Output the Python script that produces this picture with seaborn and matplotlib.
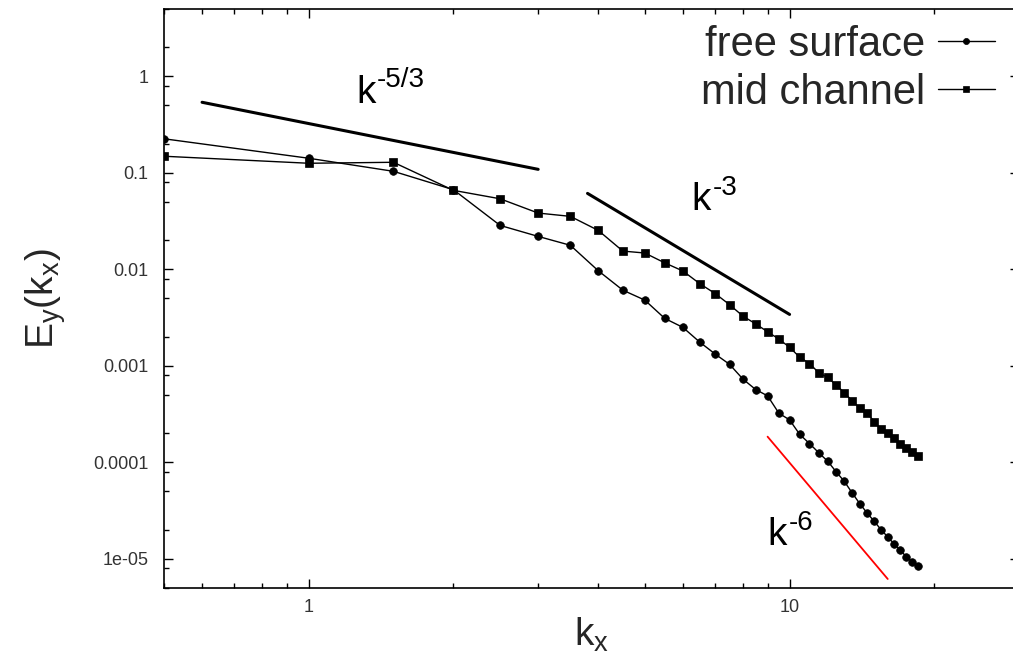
import matplotlib
matplotlib.use("Agg")
import matplotlib.pyplot as plt
import seaborn as sns
from matplotlib.ticker import FixedLocator, FixedFormatter, LogLocator, NullFormatter

# wavenumbers (k_x) and spectra
kx = [0.5, 1.0, 1.5, 2.0, 2.5, 3.0, 3.5, 4.0, 4.5, 5.0, 5.5, 6.0, 6.5,
      7.0, 7.5, 8.0, 8.5, 9.0, 9.5, 10.0, 10.5, 11.0, 11.5, 12.0, 12.5,
      13.0, 13.5, 14.0, 14.5, 15.0, 15.5, 16.0, 16.5, 17.0, 17.5, 18.0, 18.5]

free_surface = [0.226, 0.142, 0.104, 0.067, 0.0286, 0.0220, 0.0178, 0.0097,
                0.0061, 0.00481, 0.00311, 0.00251, 0.00177, 0.00133, 0.00104,
                7.3e-4, 5.7e-4, 4.9e-4, 3.24e-4, 2.76e-4, 1.95e-4, 1.57e-4,
                1.26e-4, 1.03e-4, 8.0e-5, 6.35e-5, 4.82e-5, 3.73e-5, 2.99e-5,
                2.45e-5, 2.01e-5, 1.69e-5, 1.43e-5, 1.23e-5, 1.05e-5, 9.4e-6, 8.5e-6]

mid_channel = [0.149, 0.126, 0.129, 0.066, 0.054, 0.0384, 0.0355, 0.0254,
               0.0155, 0.0148, 0.0117, 0.00964, 0.00714, 0.00563, 0.00432,
               0.00328, 0.00273, 0.00226, 0.00190, 0.00156, 0.00123, 0.00106,
               8.5e-4, 7.6e-4, 6.34e-4, 5.28e-4, 4.34e-4, 3.65e-4, 3.24e-4,
               2.65e-4, 2.21e-4, 2.01e-4, 1.78e-4, 1.56e-4, 1.41e-4, 1.29e-4, 1.17e-4]

# reference slopes (end points)
slope53_k = [0.6, 3.0]
slope53_E = [0.54, 0.109]
slope3_k = [3.8, 10.0]
slope3_E = [0.0614, 0.00342]
slope6_k = [9.0, 16.0]
slope6_E = [1.85e-4, 6.2e-6]

# label anchors (k, E, exponent)
power_labels = [(1.255, 0.536, "-5/3"), (6.25, 0.0409, "-3"), (9.0, 1.40e-5, "-6")]

xticks = [1, 10]
xtick_labels = ["1", "10"]
yticks = [1e-5, 1e-4, 1e-3, 1e-2, 1e-1, 1]
ytick_labels = ["1e-05", "0.0001", "0.001", "0.01", "0.1", "1"]

sns.set_theme(style="ticks")
plt.rcParams["font.family"] = ["Liberation Sans", "DejaVu Sans"]
plt.rcParams["mathtext.fontset"] = "custom"
plt.rcParams["mathtext.rm"] = "Liberation Sans"
plt.rcParams["mathtext.it"] = "Liberation Sans"

fig = plt.figure(figsize=(10.13, 6.57), dpi=100)
ax = fig.add_axes([164 / 1013, 1 - 588 / 657, 855 / 1013, 579 / 657])

sns.lineplot(x=kx, y=free_surface, ax=ax, color="black", lw=1.0, marker="o",
             markersize=5.5, markeredgecolor="black", markeredgewidth=0.5,
             label="free surface", sort=False, estimator=None, legend=False)
sns.lineplot(x=kx, y=mid_channel, ax=ax, color="black", lw=1.0, marker="s",
             markersize=5.5, markeredgecolor="black", markeredgewidth=0.5,
             label="mid channel", sort=False, estimator=None, legend=False)

sns.lineplot(x=slope53_k, y=slope53_E, ax=ax, color="black", lw=2.2,
             sort=False, estimator=None, legend=False)
sns.lineplot(x=slope3_k, y=slope3_E, ax=ax, color="black", lw=2.2,
             sort=False, estimator=None, legend=False)
sns.lineplot(x=slope6_k, y=slope6_E, ax=ax, color="#ff0000", lw=1.3,
             sort=False, estimator=None, legend=False)

for x, y, expo in power_labels:
    ax.text(x, y, "k", fontsize=28, ha="left", va="baseline", color="black")
    ax.annotate(expo, xy=(x, y), xytext=(15, 11), textcoords="offset points",
                fontsize=20, ha="left", va="baseline", color="black")

ax.set_xscale("log")
ax.set_yscale("log")
ax.set_xlim(0.5, 30)
ax.set_ylim(5e-6, 5)

ax.xaxis.set_major_locator(FixedLocator(xticks))
ax.xaxis.set_major_formatter(FixedFormatter(xtick_labels))
ax.xaxis.set_minor_locator(LogLocator(base=10, subs=[2, 3, 4, 5, 6, 7, 8, 9]))
ax.xaxis.set_minor_formatter(NullFormatter())
ax.yaxis.set_major_locator(FixedLocator(yticks))
ax.yaxis.set_major_formatter(FixedFormatter(ytick_labels))
ax.yaxis.set_minor_locator(LogLocator(base=10, subs=[2, 5, 8]))
ax.yaxis.set_minor_formatter(NullFormatter())

ax.tick_params(which="both", direction="in", top=True, right=True,
               color="black", width=1.0)
ax.tick_params(which="major", length=6.5)
ax.tick_params(which="minor", length=3.8)
ax.tick_params(axis="x", which="major", pad=8, labelsize=13, labelcolor="#333333")
ax.tick_params(axis="y", which="major", pad=11, labelsize=13, labelcolor="#333333")

for sp in ax.spines.values():
    sp.set_color("black")
    sp.set_linewidth(1.2)

ax.set_xlabel(r"$\mathregular{k_x}$", fontsize=28, labelpad=0)
ax.set_ylabel(r"$\mathregular{E_y(k_x)}$", fontsize=28, labelpad=18)

ax.legend(loc="upper right", bbox_to_anchor=(995 / 1013, 1 - 25 / 657),
          bbox_transform=fig.transFigure, markerfirst=False, frameon=False,
          fontsize=30, handlelength=1.37, handletextpad=0.3, labelspacing=0.19,
          borderpad=0, borderaxespad=0, markerscale=0.8)

fig.savefig("out.png", dpi=100)
